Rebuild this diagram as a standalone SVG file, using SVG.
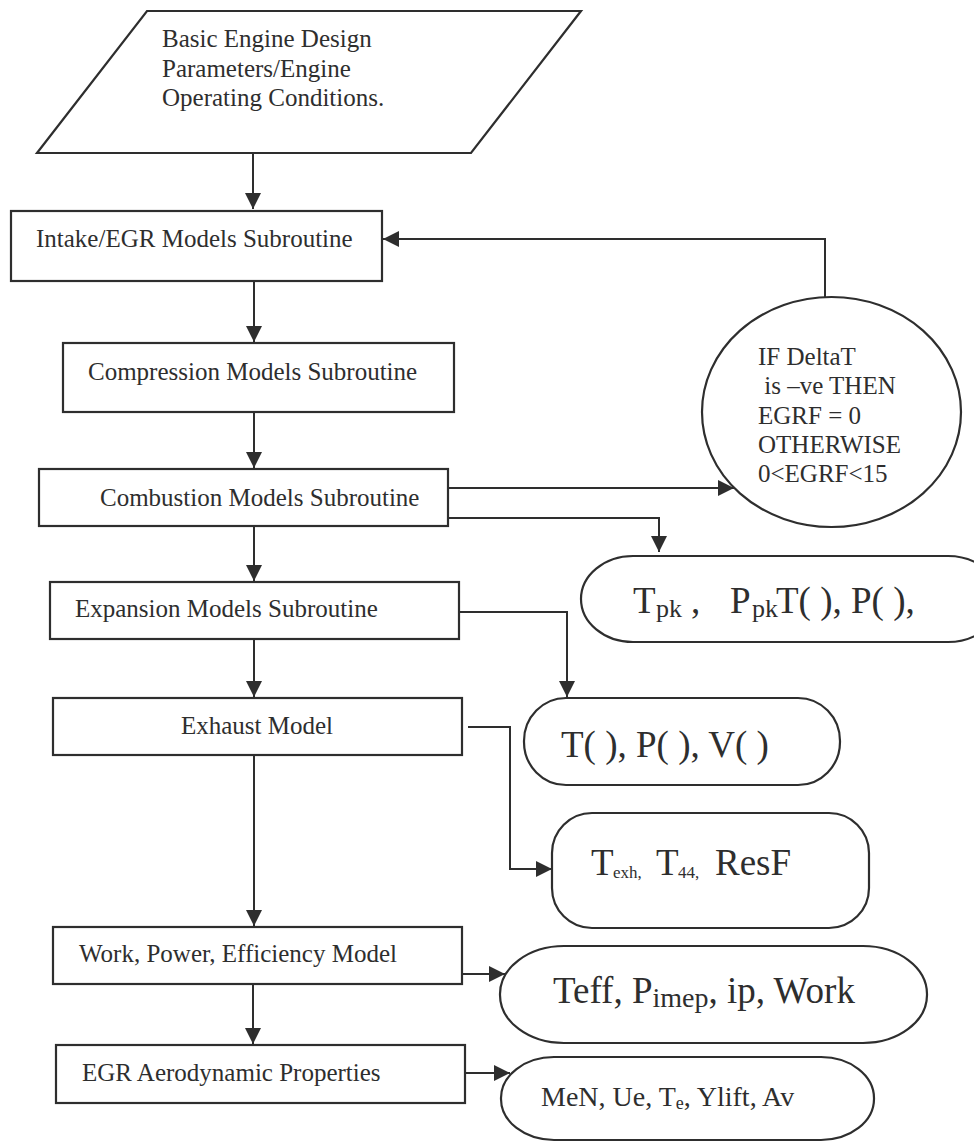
<svg xmlns="http://www.w3.org/2000/svg" width="974" height="1142" viewBox="0 0 974 1142">
<style>
.shape{fill:#fff;stroke:#2e2e2e;stroke-width:2.2}
.conn{fill:none;stroke:#2e2e2e;stroke-width:2}
text{font-family:"Liberation Serif","Times New Roman",serif;fill:#2e2e2e}
.t25{font-size:25px}
.t37{font-size:37px}
</style>
<defs>
<marker id="arr" viewBox="0 0 10 10" refX="10" refY="5" markerWidth="17" markerHeight="16" markerUnits="userSpaceOnUse" orient="auto">
<path d="M0,0 L10,5 L0,10 z" fill="#2e2e2e"/>
</marker>
</defs>
<rect width="974" height="1142" fill="#fff"/>

<g id="connectors">
<path class="conn" d="M253,153 V209" marker-end="url(#arr)"/>
<path class="conn" d="M254,281 V342" marker-end="url(#arr)"/>
<path class="conn" d="M254,412 V468" marker-end="url(#arr)"/>
<path class="conn" d="M254,526 V581" marker-end="url(#arr)"/>
<path class="conn" d="M254,639 V697" marker-end="url(#arr)"/>
<path class="conn" d="M254,755 V926" marker-end="url(#arr)"/>
<path class="conn" d="M253,984 V1044" marker-end="url(#arr)"/>
<path class="conn" d="M825,297 V239 H383" marker-end="url(#arr)"/>
<path class="conn" d="M448,488 H734" marker-end="url(#arr)"/>
<path class="conn" d="M448,518 H659 V552" marker-end="url(#arr)"/>
<path class="conn" d="M456,612 H567 V697" marker-end="url(#arr)"/>
<path class="conn" d="M468,727 H510 V869 H552" marker-end="url(#arr)"/>
<path class="conn" d="M462,974 H505" marker-end="url(#arr)"/>
<path class="conn" d="M465,1073 H510" marker-end="url(#arr)"/>
</g>

<g id="input">
<polygon class="shape" points="147,11 581,11 471,153 37,153"/>
<text class="t25" x="162" y="47">Basic Engine Design</text>
<text class="t25" x="162" y="77">Parameters/Engine</text>
<text class="t25" x="162" y="106">Operating Conditions.</text>
</g>

<g id="intake">
<rect class="shape" x="11" y="211" width="371" height="70"/>
<text class="t25" x="36" y="247">Intake/EGR Models Subroutine</text>
</g>

<g id="compression">
<rect class="shape" x="63" y="343" width="391" height="69"/>
<text class="t25" x="88" y="380">Compression Models Subroutine</text>
</g>

<g id="combustion">
<rect class="shape" x="39" y="469" width="409" height="57"/>
<text class="t25" x="100" y="506">Combustion Models Subroutine</text>
</g>

<g id="expansion">
<rect class="shape" x="50" y="582" width="409" height="57"/>
<text class="t25" x="75" y="617">Expansion Models Subroutine</text>
</g>

<g id="exhaust">
<rect class="shape" x="53" y="698" width="409" height="57"/>
<text class="t25" x="181" y="734">Exhaust Model</text>
</g>

<g id="work">
<rect class="shape" x="53" y="927" width="409" height="57"/>
<text class="t25" x="79" y="962">Work, Power, Efficiency Model</text>
</g>

<g id="egr">
<rect class="shape" x="56" y="1045" width="409" height="58"/>
<text class="t25" x="82" y="1081">EGR Aerodynamic Properties</text>
</g>

<g id="decision">
<ellipse class="shape" cx="831.5" cy="412" rx="129.5" ry="115"/>
<text class="t25" x="758" y="365">IF DeltaT</text>
<text class="t25" x="758" y="394" xml:space="preserve"> is –ve THEN</text>
<text class="t25" x="758" y="424">EGRF = 0</text>
<text class="t25" x="758" y="453">OTHERWISE</text>
<text class="t25" x="758" y="482">0&lt;EGRF&lt;15</text>
</g>

<g id="out-peak">
<rect class="shape" x="581" y="556" width="419" height="86" rx="52" ry="43"/>
<text class="t37" y="613"><tspan x="633">T</tspan><tspan x="656" dy="4" font-size="26">pk</tspan><tspan x="691" dy="-4">,</tspan><tspan x="730">P</tspan><tspan x="752" dy="4" font-size="26">pk</tspan><tspan x="776" dy="-4">T( ), P( ),</tspan></text>
</g>

<g id="out-state">
<rect class="shape" x="524" y="698" width="316" height="87" rx="42" ry="43"/>
<text class="t37" x="561" y="757">T( ), P( ), V( )</text>
</g>

<g id="out-exhaust">
<rect class="shape" x="552" y="813" width="317" height="115" rx="40" ry="40"/>
<text class="t37" y="875"><tspan x="591">T</tspan><tspan x="613" dy="3" font-size="17">exh,</tspan><tspan x="656" dy="-3">T</tspan><tspan x="678" dy="3" font-size="17">44,</tspan><tspan x="715" dy="-3">ResF</tspan></text>
</g>

<g id="out-work">
<rect class="shape" x="500" y="946" width="427" height="97" rx="64" ry="48"/>
<text class="t37" x="553" y="1003" xml:space="preserve">Teff, P<tspan dy="4" font-size="28">imep</tspan><tspan dy="-4">, ip, Work</tspan></text>
</g>

<g id="out-aero">
<rect class="shape" x="501" y="1057" width="373" height="83" rx="53" ry="41"/>
<text y="1106" font-size="28"><tspan x="541">MeN, Ue, T</tspan><tspan dy="3" font-size="18">e</tspan><tspan dy="-3">, Ylift, Av</tspan></text>
</g>
</svg>
